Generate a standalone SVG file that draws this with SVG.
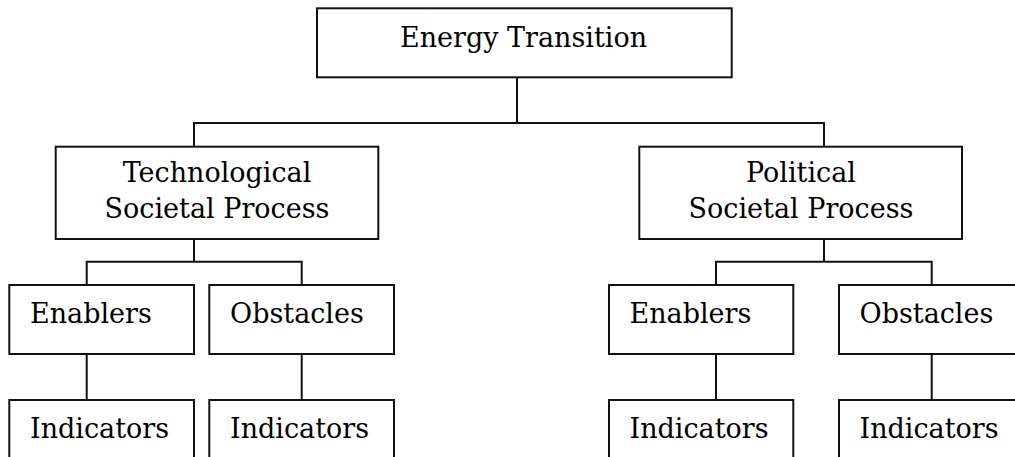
<svg xmlns="http://www.w3.org/2000/svg" width="1015" height="457" viewBox="0 0 1015 457">
<style>
.box{fill:#fff;stroke:#111;stroke-width:2}
.ln{fill:none;stroke:#111;stroke-width:2}
text{font-family:"DejaVu Serif","Liberation Serif",serif;font-size:27px;fill:#000}
.c{text-anchor:middle}
</style>
<rect width="1015" height="457" fill="#fff"/>
<g id="connectors">
<path class="ln" d="M517 77V123M194 146.7V123H824V146.7"/>
<path class="ln" d="M194 239V261.7M86.7 285V261.7H301.7V285"/>
<path class="ln" d="M824 239V261.7M716 285V261.7H931.7V285"/>
<path class="ln" d="M86.7 354V400M301.7 354V400M716 354V400M931.7 354V400"/>
</g>
<g id="energy"><rect class="box" x="317" y="8.3" width="414.7" height="69"/><text x="400" y="47">Energy Transition</text></g>
<g id="tech"><rect class="box" x="55.7" y="146.7" width="322.6" height="92.3"/><text class="c" x="217" y="182">Technological</text><text class="c" x="217" y="218">Societal Process</text></g>
<g id="pol"><rect class="box" x="639.3" y="146.7" width="322.7" height="92.3"/><text class="c" x="801" y="182">Political</text><text class="c" x="801" y="218">Societal Process</text></g>
<g id="tech-enablers"><rect class="box" x="9.3" y="285" width="184.7" height="69"/><text x="30" y="323">Enablers</text></g>
<g id="tech-obstacles"><rect class="box" x="209.3" y="285" width="184.7" height="69"/><text x="230" y="323">Obstacles</text></g>
<g id="pol-enablers"><rect class="box" x="609" y="285" width="184.3" height="69"/><text x="629.5" y="323">Enablers</text></g>
<g id="pol-obstacles"><rect class="box" x="839" y="285" width="185" height="69"/><text x="859.5" y="323">Obstacles</text></g>
<g id="tech-enablers-ind"><rect class="box" x="9.3" y="400" width="184.7" height="70"/><text x="30" y="438">Indicators</text></g>
<g id="tech-obstacles-ind"><rect class="box" x="209.3" y="400" width="184.7" height="70"/><text x="230" y="438">Indicators</text></g>
<g id="pol-enablers-ind"><rect class="box" x="609" y="400" width="184.3" height="70"/><text x="629.5" y="438">Indicators</text></g>
<g id="pol-obstacles-ind"><rect class="box" x="839" y="400" width="185" height="70"/><text x="859.5" y="438">Indicators</text></g>
</svg>
